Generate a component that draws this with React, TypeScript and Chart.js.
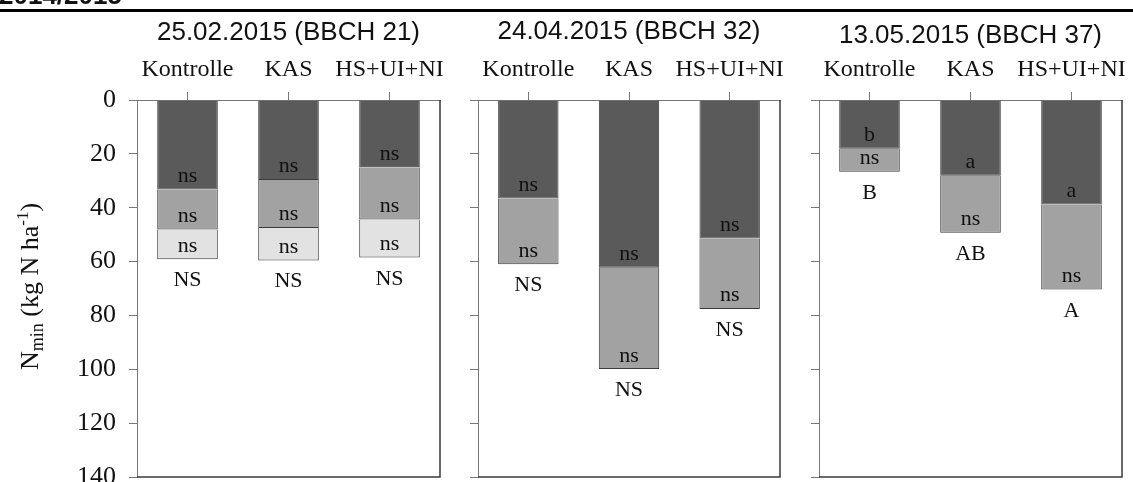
import React, { useEffect, useRef } from 'react';
import { Chart, registerables } from 'chart.js';

Chart.register(...registerables);

// ---------- data ----------
const categories = ['Kontrolle', 'KAS', 'HS+UI+NI'];
const yTicks = [0, 20, 40, 60, 80, 100, 120, 140];
const headerText = '2014/2015';
const layerNames = ['Schicht 1', 'Schicht 2', 'Schicht 3'];

// 25.02.2015 (BBCH 21)
const febTitle = '25.02.2015 (BBCH 21)';
const febLayer1 = [33.2, 29.7, 25.0];
const febLayer2 = [14.9, 17.8, 19.4];
const febLayer3 = [11.0, 12.1, 14.1];
const febLayer1Sig = ['ns', 'ns', 'ns'];
const febLayer2Sig = ['ns', 'ns', 'ns'];
const febLayer3Sig = ['ns', 'ns', 'ns'];
const febTotalSig = ['NS', 'NS', 'NS'];

// 24.04.2015 (BBCH 32)
const aprTitle = '24.04.2015 (BBCH 32)';
const aprLayer1 = [36.6, 62.3, 51.4];
const aprLayer2 = [24.4, 37.6, 26.2];
const aprLayer1Sig = ['ns', 'ns', 'ns'];
const aprLayer2Sig = ['ns', 'ns', 'ns'];
const aprTotalSig = ['NS', 'NS', 'NS'];

// 13.05.2015 (BBCH 37)
const mayTitle = '13.05.2015 (BBCH 37)';
const mayLayer1 = [18.1, 28.1, 38.8];
const mayLayer2 = [8.5, 21.2, 31.6];
const mayLayer1Sig = ['b', 'a', 'a'];
const mayLayer2Sig = ['ns', 'ns', 'ns'];
const mayTotalSig = ['B', 'AB', 'A'];

// ---------- styles / layout ----------
const layerColors = ['#5a5a5a', '#a2a2a2', '#e2e2e2'];
const SERIF = '"Liberation Serif", "Times New Roman", serif';
const SANS = '"Liberation Sans", Arial, sans-serif';
const H = 482;

type PanelDef = {
  key: string;
  title: string;
  layers: number[][];
  sig: string[][];
  totalSig: string[];
  left: number;
  width: number;
  axisWidth: number;
  padRight: number;
  titleBaseline: number;
  first: boolean;
};

const panels: PanelDef[] = [
  {
    key: 'feb', title: febTitle,
    layers: [febLayer1, febLayer2, febLayer3],
    sig: [febLayer1Sig, febLayer2Sig, febLayer3Sig],
    totalSig: febTotalSig,
    left: 0, width: 450, axisWidth: 137, padRight: 10, titleBaseline: 40, first: true,
  },
  {
    key: 'apr', title: aprTitle,
    layers: [aprLayer1, aprLayer2],
    sig: [aprLayer1Sig, aprLayer2Sig],
    totalSig: aprTotalSig,
    left: 450, width: 340, axisWidth: 28, padRight: 10, titleBaseline: 39, first: false,
  },
  {
    key: 'may', title: mayTitle,
    layers: [mayLayer1, mayLayer2],
    sig: [mayLayer1Sig, mayLayer2Sig],
    totalSig: mayTotalSig,
    left: 790, width: 343, axisWidth: 29, padRight: 11, titleBaseline: 43, first: false,
  },
];

function drawRich(ctx: CanvasRenderingContext2D, parts: { t: string; size: number; dy: number }[], cx: number, baseY: number) {
  let total = 0;
  const widths = parts.map((p) => {
    ctx.font = `${p.size}px ${SERIF}`;
    const w = ctx.measureText(p.t).width;
    total += w;
    return w;
  });
  let x = cx - total / 2;
  ctx.textAlign = 'left';
  ctx.textBaseline = 'alphabetic';
  parts.forEach((p, i) => {
    ctx.font = `${p.size}px ${SERIF}`;
    ctx.fillText(p.t, x, baseY + p.dy);
    x += widths[i];
  });
}

function makePlugin(p: PanelDef) {
  return {
    id: 'annot_' + p.key,
    afterDraw(chart: any) {
      const ctx: CanvasRenderingContext2D = chart.ctx;
      const { left, right, top, bottom } = chart.chartArea;
      const xs = chart.scales.x;
      const ys = chart.scales.y;
      ctx.save();
      // right and bottom frame
      ctx.strokeStyle = '#3a3a3a';
      ctx.lineWidth = 1.5;
      ctx.beginPath();
      ctx.moveTo(right, top);
      ctx.lineTo(right, bottom);
      ctx.lineTo(left, bottom);
      ctx.stroke();

      // panel title
      ctx.fillStyle = '#111';
      ctx.font = `26px ${SANS}`;
      ctx.textAlign = 'center';
      ctx.textBaseline = 'alphabetic';
      ctx.fillText(p.title, (left + right) / 2, p.titleBaseline);

      // significance letters
      ctx.font = `22px ${SERIF}`;
      categories.forEach((_, j) => {
        const x = xs.getPixelForValue(j);
        let cum = 0;
        p.layers.forEach((layer, i) => {
          cum += layer[j];
          ctx.fillText(p.sig[i][j], x, ys.getPixelForValue(cum) - 7.5);
        });
        ctx.fillText(p.totalSig[j], x, ys.getPixelForValue(cum) + 27);
      });

      if (p.first) {
        // cropped header
        ctx.font = `bold 26px ${SANS}`;
        ctx.textAlign = 'left';
        ctx.fillText(headerText, -1, 4);
        // y-axis title with sub/superscript
        ctx.save();
        ctx.translate(38, (top + bottom) / 2 - 2);
        ctx.rotate(-Math.PI / 2);
        drawRich(ctx, [
          { t: 'N', size: 26, dy: 0 },
          { t: 'min', size: 18, dy: 5 },
          { t: ' (kg N ha', size: 26, dy: 0 },
          { t: '-1', size: 17, dy: -10 },
          { t: ')', size: 26, dy: 0 },
        ], 0, 0);
        ctx.restore();
      }
      ctx.restore();
    },
  };
}

function Panel({ p }: { p: PanelDef }) {
  const ref = useRef<HTMLCanvasElement>(null);
  useEffect(() => {
    const chart = new Chart(ref.current as HTMLCanvasElement, {
      type: 'bar',
      data: {
        labels: categories,
        datasets: p.layers.map((d, i) => ({
          label: layerNames[i],
          data: d,
          backgroundColor: layerColors[i],
          borderColor: '#3a3a3a',
          borderWidth: { top: 0, bottom: 1, left: 1, right: 1 },
          borderSkipped: false,
          barPercentage: 0.6,
          categoryPercentage: 1,
        })),
      },
      options: {
        responsive: false,
        animation: false,
        devicePixelRatio: 1,
        layout: { padding: { left: 0, right: p.padRight, top: 0, bottom: H - 477 } },
        plugins: { legend: { display: false }, tooltip: { enabled: false }, title: { display: false } },
        scales: {
          x: {
            type: 'category',
            position: 'top',
            stacked: true,
            offset: true,
            grid: { display: true, drawOnChartArea: false, drawTicks: true, tickLength: 8, offset: false, color: '#777' },
            border: { display: true, color: '#777', width: 1 },
            ticks: { font: { family: SERIF, size: 24 }, color: '#111', padding: 8, maxRotation: 0, autoSkip: false },
            afterFit: (s: any) => { s.height = 100; s.paddingLeft = 0; s.paddingRight = 0; },
          },
          y: {
            type: 'linear',
            stacked: true,
            reverse: true,
            min: 0,
            max: 140,
            afterBuildTicks: (s: any) => { s.ticks = yTicks.map((v) => ({ value: v })); },
            grid: { display: true, drawOnChartArea: false, drawTicks: true, tickLength: 8, color: '#777' },
            border: { display: true, color: '#777', width: 1 },
            ticks: { display: p.first, font: { family: SERIF, size: 26 }, color: '#111', padding: 13 },
            afterFit: (s: any) => { s.width = p.axisWidth; s.paddingTop = 0; s.paddingBottom = 0; },
          },
        },
      } as any,
      plugins: [makePlugin(p)],
    });
    return () => chart.destroy();
  }, [p]);
  return (
    <canvas
      ref={ref}
      width={p.width}
      height={H}
      style={{ position: 'absolute', left: p.left, top: 0, width: p.width, height: H }}
    />
  );
}

export default function App() {
  return (
    <div style={{ position: 'absolute', left: 0, top: 0, width: 1133, height: H, overflow: 'hidden', background: '#fff' }}>
      <div style={{ position: 'absolute', left: 0, top: 9, width: 1133, height: 3, background: '#000' }} />
      {panels.map((p) => (
        <Panel key={p.key} p={p} />
      ))}
    </div>
  );
}
